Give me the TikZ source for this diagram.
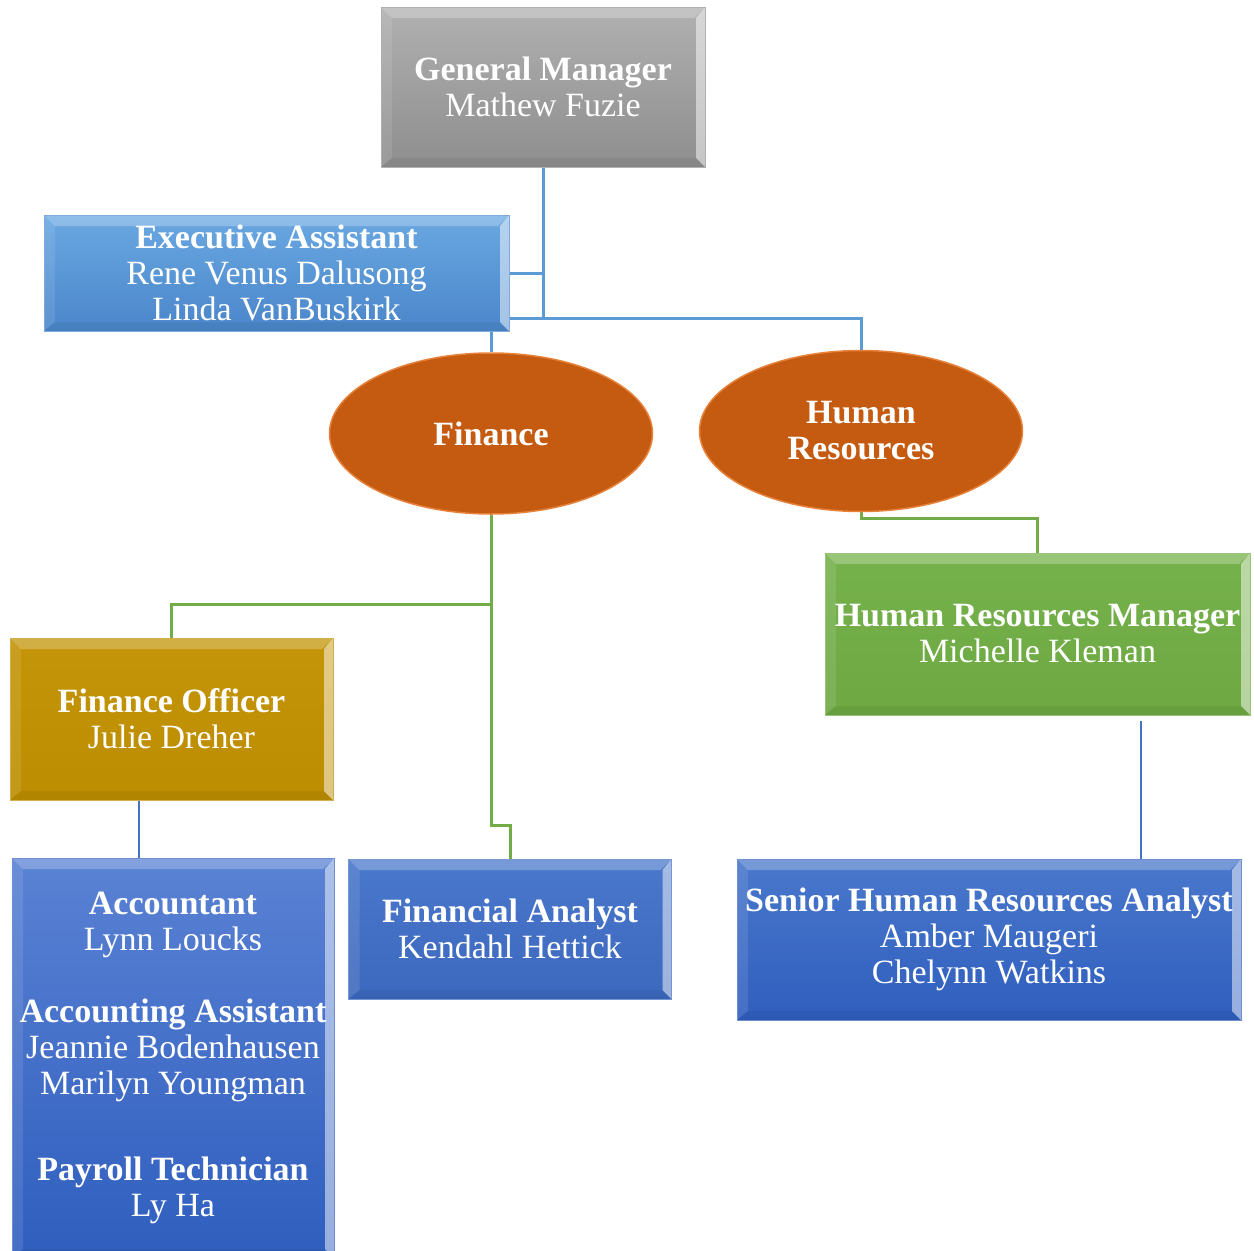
\documentclass[tikz,border=0pt]{standalone}
\usepackage{fontspec}
\setmainfont{Liberation Serif}
\usetikzlibrary{shapes.geometric,backgrounds,calc}
\definecolor{gmtop}{HTML}{B0B0B0}
\definecolor{gmbot}{HTML}{8E8E8E}
\definecolor{eatop}{HTML}{6AA8E2}
\definecolor{eabot}{HTML}{4A86CA}
\definecolor{orng}{HTML}{C55A11}
\definecolor{orngrim}{HTML}{E8823A}
\definecolor{fotop}{HTML}{C49508}
\definecolor{fobot}{HTML}{BC8D00}
\definecolor{hrmtop}{HTML}{76B24C}
\definecolor{hrmbot}{HTML}{6DA842}
\definecolor{dbtop}{HTML}{5A82D4}
\definecolor{dbbot}{HTML}{2F5EBE}
\definecolor{fatop}{HTML}{4A78CC}
\definecolor{fabot}{HTML}{3C68BE}
\definecolor{lnblue}{HTML}{5B9BD5}
\definecolor{lngreen}{HTML}{70AD47}
\definecolor{lndblue}{HTML}{4472C4}
\newcommand\orgfs{\fontsize{34}{36}\selectfont}
\newcommand\bevelpp{%
 \fill[white,opacity=0.25] (path picture bounding box.north west) -- (path picture bounding box.north east) -- ([shift={(-11pt,-11pt)}]path picture bounding box.north east) -- ([shift={(11pt,-11pt)}]path picture bounding box.north west) -- cycle;
 \fill[white,opacity=0.5] (path picture bounding box.north east) -- (path picture bounding box.south east) -- ([shift={(-9pt,9pt)}]path picture bounding box.south east) -- ([shift={(-9pt,-11pt)}]path picture bounding box.north east) -- cycle;
 \fill[white,opacity=0.10] (path picture bounding box.north west) -- (path picture bounding box.south west) -- ([shift={(11pt,9pt)}]path picture bounding box.south west) -- ([shift={(11pt,-11pt)}]path picture bounding box.north west) -- cycle;
 \fill[black,opacity=0.05] (path picture bounding box.south west) -- (path picture bounding box.south east) -- ([shift={(-9pt,9pt)}]path picture bounding box.south east) -- ([shift={(11pt,9pt)}]path picture bounding box.south west) -- cycle;
}
\begin{document}
\begin{tikzpicture}[x=1pt,y=-1pt,
  orgbox/.style n args={4}{rectangle, inner sep=0pt, minimum width=#1, minimum height=#2,
    top color=#3, bottom color=#4, draw=#4!70!white, line width=0.8pt,
    text=white, align=center, font=\orgfs, path picture={\bevelpp}},
  dept/.style={ellipse, inner sep=0pt, minimum width=323pt, minimum height=161pt,
    fill=orng, draw=orngrim, line width=1.5pt, text=white, align=center, font=\orgfs\bfseries},
  blueline/.style={draw=lnblue, line width=3pt},
  greenline/.style={draw=lngreen, line width=3pt},
  dblueline/.style={draw=lndblue, line width=2.5pt}]
\useasboundingbox (0,0) rectangle (1254,1251);
\clip (0,0) rectangle (1254,1251);

\node[orgbox={324pt}{160pt}{gmtop}{gmbot}] (gm) at (543,87) {\textbf{General Manager}\\Mathew Fuzie};
\node[orgbox={465pt}{116pt}{eatop}{eabot}] (ea) at (276.5,273) {\textbf{Executive Assistant}\\Rene Venus Dalusong\\Linda VanBuskirk};
\node[dept] (fin) at (491,433.5) {Finance};
\node[dept] (hr) at (861,431) {Human\\Resources};
\node[orgbox={323pt}{162pt}{fotop}{fobot}] (fo) at (171.5,719) {\textbf{Finance Officer}\\Julie Dreher};
\node[orgbox={425pt}{162pt}{hrmtop}{hrmbot}] (hrm) at (1037.5,634) {\textbf{Human Resources Manager}\\Michelle Kleman};
\node[orgbox={322pt}{400pt}{dbtop}{dbbot}] (acc) at (173,1058) {\textbf{Accountant}\\Lynn Loucks\\[36pt]\textbf{Accounting Assistant}\\Jeannie Bodenhausen\\Marilyn Youngman\\[50pt]\textbf{Payroll Technician}\\Ly Ha};
\node[orgbox={323pt}{140pt}{fatop}{fabot}] (fa) at (510,929) {\textbf{Financial Analyst}\\Kendahl Hettick};
\node[orgbox={504pt}{161pt}{fatop}{dbbot}] (sr) at (989,939.5) {\textbf{Senior Human Resources Analyst}\\Amber Maugeri\\Chelynn Watkins};

\coordinate (j1) at (543,318);
\coordinate (j2) at (491,604);
\coordinate (j3) at (491,825);
\coordinate (j4) at (861,518);
\coordinate (j5) at (1141,721);

\begin{scope}[on background layer]
\draw[blueline] (gm.south) |- (ea.east);
\draw[blueline] (gm.south) -- (j1) -| (hr.north);
\draw[blueline] (j1) -| (fin.north);
\draw[greenline] (fin.south) -- (j2) -| (fo.north);
\draw[greenline] (j2) -- (j3) -| (fa.north);
\draw[greenline] (hr.south) -- (j4) -| (hrm.north);
\draw[dblueline] ([xshift=-32.5pt]fo.south) -- ([xshift=-34pt]acc.north);
\draw[dblueline] (j5) -- (j5 |- sr.north);
\end{scope}
\end{tikzpicture}
\end{document}
